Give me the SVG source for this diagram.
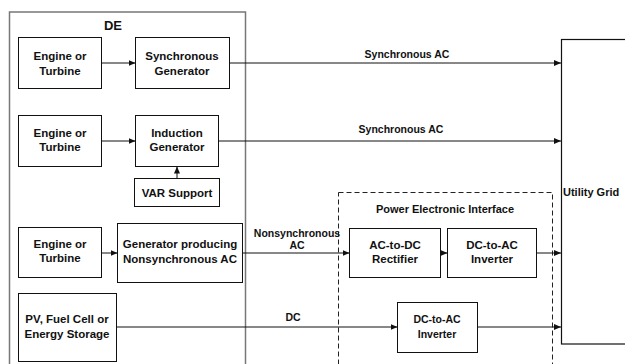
<svg xmlns="http://www.w3.org/2000/svg" width="625" height="364" viewBox="0 0 625 364">
<defs>
<style>
.box{fill:#fff;stroke:#111;stroke-width:1}
.t{font-family:"Liberation Sans",Arial,sans-serif;font-weight:bold;font-size:11.5px;fill:#111;text-anchor:middle}
.l{font-family:"Liberation Sans",Arial,sans-serif;font-weight:bold;font-size:10.5px;fill:#111;text-anchor:middle}
.c{fill:none;stroke:#111;stroke-width:1;marker-end:url(#ah)}
</style>
<marker id="ah" markerWidth="7" markerHeight="6" refX="7" refY="3" orient="auto" markerUnits="userSpaceOnUse">
<path d="M0,0 L7,3 L0,6 Z" fill="#111"/>
</marker>
</defs>
<rect width="625" height="364" fill="#fff"/>
<g id="de">
<rect x="9.5" y="12" width="236" height="360" fill="none" stroke="#777" stroke-width="1.5"/>
<text x="113" y="30" class="t" style="font-size:13px">DE</text>
</g>
<g id="pei">
<rect x="338.5" y="192.5" width="214" height="180" fill="none" stroke="#222" stroke-width="1" stroke-dasharray="5,3"/>
<text x="445" y="213" class="t" style="font-size:11px">Power Electronic Interface</text>
</g>
<g id="grid">
<rect x="561.5" y="39.5" width="80" height="304.5" fill="#fff" stroke="#111" stroke-width="1.2"/>
<text x="563" y="196" class="t" style="text-anchor:start;font-size:11px">Utility Grid</text>
</g>
<g id="eng1"><rect class="box" x="18.5" y="37.5" width="83" height="51"/><text class="t" x="60" y="60">Engine or</text><text class="t" x="60" y="75">Turbine</text></g>
<g id="syngen"><rect class="box" x="135.5" y="37.5" width="94" height="51"/><text class="t" x="182" y="60">Synchronous</text><text class="t" x="182" y="75">Generator</text></g>
<g id="eng2"><rect class="box" x="18.5" y="115.5" width="83" height="51"/><text class="t" x="60" y="137">Engine or</text><text class="t" x="60" y="151">Turbine</text></g>
<g id="indgen"><rect class="box" x="135.5" y="115.5" width="83" height="51"/><text class="t" x="177" y="137">Induction</text><text class="t" x="177" y="151">Generator</text></g>
<g id="var"><rect class="box" x="134.5" y="178.5" width="85" height="28"/><text class="t" x="177" y="197">VAR Support</text></g>
<g id="eng3"><rect class="box" x="18.5" y="227.5" width="83" height="50"/><text class="t" x="60" y="248">Engine or</text><text class="t" x="60" y="262">Turbine</text></g>
<g id="nsgen"><rect class="box" x="117.5" y="223.5" width="125" height="59"/><text class="t" x="180" y="248">Generator producing</text><text class="t" x="180" y="263">Nonsynchronous AC</text></g>
<g id="pv"><rect class="box" x="18.5" y="293.5" width="98" height="68"/><text class="t" x="67" y="323">PV, Fuel Cell or</text><text class="t" x="67" y="338">Energy Storage</text></g>
<g id="rect"><rect class="box" x="349.5" y="228.5" width="91" height="49"/><text class="t" x="395" y="249">AC-to-DC</text><text class="t" x="395" y="263">Rectifier</text></g>
<g id="inv1"><rect class="box" x="447.5" y="228.5" width="89" height="49"/><text class="t" x="492" y="249">DC-to-AC</text><text class="t" x="492" y="263">Inverter</text></g>
<g id="inv2"><rect class="box" x="397.5" y="302.5" width="80" height="50"/><text class="t" x="437" y="323" style="font-size:10.5px">DC-to-AC</text><text class="t" x="437" y="338" style="font-size:10.5px">Inverter</text></g>
<g id="connectors">
<path class="c" d="M101.5,63 H135.5"/>
<path class="c" d="M229.5,63 H561"/>
<path class="c" d="M101.5,141 H135.5"/>
<path class="c" d="M218.5,141 H561"/>
<path class="c" d="M177,178.5 V166.5"/>
<path class="c" d="M101.5,253 H117.5"/>
<path class="c" d="M242.5,253 H349.5"/>
<path class="c" d="M440.5,253 H447.5"/>
<path class="c" d="M536.5,253 H561"/>
<path class="c" d="M116.5,327 H397.5"/>
<path class="c" d="M477.5,327 H561"/>
<text class="l" x="407" y="58">Synchronous AC</text>
<text class="l" x="401" y="133">Synchronous AC</text>
<text class="l" x="297" y="237">Nonsynchronous</text>
<text class="l" x="297" y="249">AC</text>
<text class="l" x="293" y="321">DC</text>
</g>
</svg>
